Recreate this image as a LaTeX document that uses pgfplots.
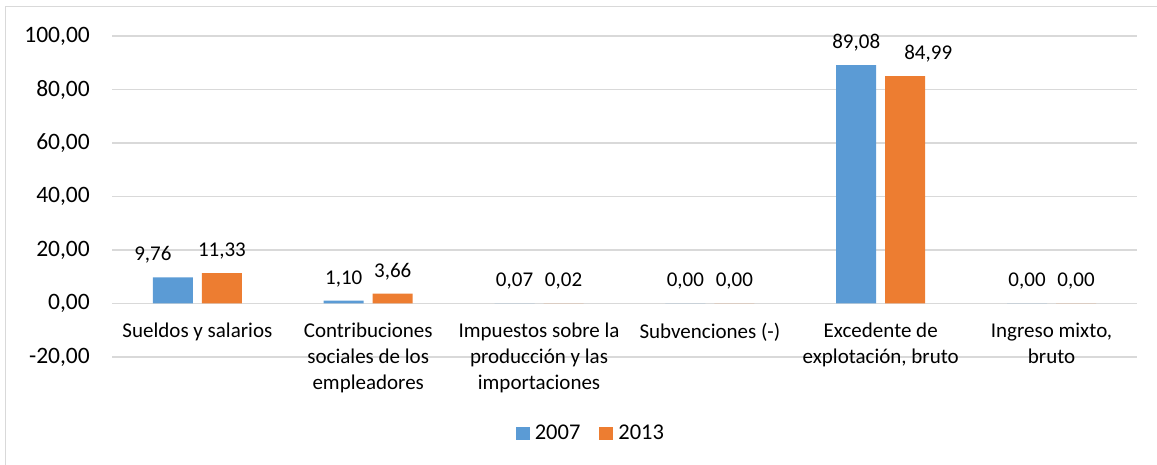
\documentclass[border=0pt]{standalone}
\usepackage{fontspec}
\setmainfont{Carlito}
\usepackage{pgfplots}
\pgfplotsset{compat=1.18}
\usepackage{pgfplotstable}
\definecolor{c07}{HTML}{5B9BD5}
\definecolor{c13}{HTML}{ED7D31}
\definecolor{gridc}{HTML}{D9D9D9}
\pgfplotstableread{
x y
0 9.76
1 1.10
2 0.07
3 0.00
4 89.08
5 0.00
}\tA
\pgfplotstableread{
x y
0 11.33
1 3.66
2 0.02
3 0.00
4 84.99
5 0.00
}\tB
\begin{document}
\begin{tikzpicture}[x=1bp,y=1bp]
\useasboundingbox (0,0) rectangle (1157,465);
\draw[gridc, line width=1.5bp] (5.5,0) -- (5.5,458.5) -- (1157,458.5);
\begin{axis}[
  at={(112bp,108bp)}, anchor=south west,
  scale only axis, width=1025bp, height=321bp,
  xmin=-0.5, xmax=5.5, ymin=-20, ymax=100,
  clip=false,
  ytick={-20,0,20,40,60,80,100},
  xtick={0,1,2,3,4,5},
  xticklabels={Sueldos y salarios, Contribuciones\\sociales de los\\empleadores, Impuestos sobre la\\producción y las\\importaciones, Subvenciones (-), {Excedente de\\explotación, bruto}, {Ingreso mixto,\\bruto}},
  ymajorgrids, major grid style={gridc, line width=1.2bp},
  axis line style={draw=none}, major tick length=0pt,
  /pgf/number format/assume math mode=true,
  /pgf/number format/fixed,
  /pgf/number format/fixed zerofill,
  /pgf/number format/precision=2,
  /pgf/number format/use comma,
  yticklabel style={font=\fontsize{23.5bp}{28bp}\selectfont, anchor=east, inner sep=0pt, xshift=-22bp},
  xticklabel style={font=\fontsize{21bp}{26bp}\selectfont, align=center, anchor=north, inner sep=0pt, yshift=34bp},
  ybar=9bp, bar width=40bp,
  nodes near coords,
  nodes near coords style={font=\fontsize{21bp}{26bp}\selectfont, anchor=base, inner sep=0pt, yshift=16.5bp, text=black},
  legend columns=2,
  legend style={at={(0.4663,-0.2368)}, anchor=center, draw=none, fill=none, inner sep=0pt,
    font=\fontsize{22.5bp}{27bp}\selectfont, nodes={inner sep=0pt},
    /tikz/every odd column/.append style={column sep=5bp},
    /tikz/every even column/.append style={column sep=19bp}},
  legend image code/.code={\fill[#1,draw=none] (0bp,-6.5bp) rectangle (14bp,6.5bp);},
]
\addplot[fill=c07, draw=none, coordinate style/.condition={x==0}{xshift=-20bp}] table[x=x,y=y] {\tA};
\addplot[fill=c13, draw=none, coordinate style/.condition={x==4}{xshift=23bp}] table[x=x,y=y] {\tB};
\legend{2007,2013}
\end{axis}
\end{tikzpicture}
\end{document}
